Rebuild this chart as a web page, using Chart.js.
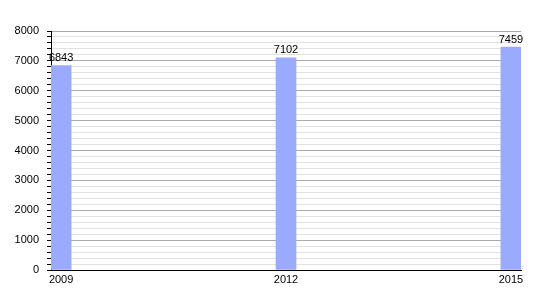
<!DOCTYPE html>
<html>
<head>
<meta charset="utf-8">
<script src="https://cdn.jsdelivr.net/npm/chart.js@4"></script>
<style>
  html, body { margin: 0; padding: 0; background: #fff; }
  #wrap { width: 550px; height: 300px; }
</style>
</head>
<body>
<div id="wrap"><canvas id="chartDiv"></canvas></div>
<script>
const years = [2009, 2012, 2015];
const population = [6843, 7102, 7459];
const yTicks = [0, 1000, 2000, 3000, 4000, 5000, 6000, 7000, 8000];

// draws the value over each bar
const valueLabels = {
  id: "valueLabels",
  afterDatasetsDraw(chart) {
    const ctx = chart.ctx;
    const meta = chart.getDatasetMeta(0);
    ctx.save();
    ctx.font = "11px 'Liberation Sans', Arial, sans-serif";
    ctx.fillStyle = "#000";
    ctx.textAlign = "center";
    ctx.textBaseline = "bottom";
    meta.data.forEach((bar, i) => {
      ctx.fillText(String(population[i]), bar.x, bar.y - 2);
    });
    ctx.restore();
  },
};

const ctx = document.getElementById("chartDiv");
const chart = new Chart(ctx, {
  type: "bar",
  data: {
    datasets: [
      {
        data: years.map((y, i) => ({ x: y, y: population[i] })),
        backgroundColor: "#99aaff",
        borderWidth: 0,
        barThickness: 20,
      },
    ],
  },
  options: {
    responsive: true,
    maintainAspectRatio: false,
    animation: false,
    layout: { padding: { top: 31, right: 29, left: 0, bottom: 0 } },
    plugins: { legend: { display: false }, tooltip: { enabled: false } },
    scales: {
      x: {
        type: "linear",
        offset: false,
        min: 2009 - 0.135,
        max: 2015 + 0.135,
        afterBuildTicks: (scale) => {
          scale.ticks = years.map((v) => ({ value: v }));
        },
        afterFit: (scale) => {
          scale.height = 30;
        },
        grid: { display: false, drawTicks: false },
        border: { color: "#000", width: 1 },
        ticks: {
          color: "#000",
          padding: 3,
          maxRotation: 0,
          autoSkip: false,
          font: { family: "'Liberation Sans', Arial, sans-serif", size: 11 },
          callback: (v) => String(v),
        },
      },
      y: {
        min: 0,
        max: 8000,
        afterBuildTicks: (scale) => {
          const t = [];
          for (let v = 0; v <= 8000; v += 200) t.push({ value: v });
          scale.ticks = t;
        },
        afterFit: (scale) => {
          scale.width = 51;
        },
        grid: {
          color: (c) => (c.tick && c.tick.value % 1000 === 0 ? "#aaaaaa" : "#e2e2e2"),
          tickColor: "#000",
          tickLength: 4,
          lineWidth: 1,
        },
        border: { color: "#000", width: 1 },
        ticks: {
          color: "#000",
          padding: 8,
          autoSkip: false,
          font: { family: "'Liberation Sans', Arial, sans-serif", size: 11 },
          callback: (v) => (yTicks.includes(v) ? String(v) : ""),
        },
      },
    },
  },
  plugins: [valueLabels],
});
</script>
</body>
</html>
